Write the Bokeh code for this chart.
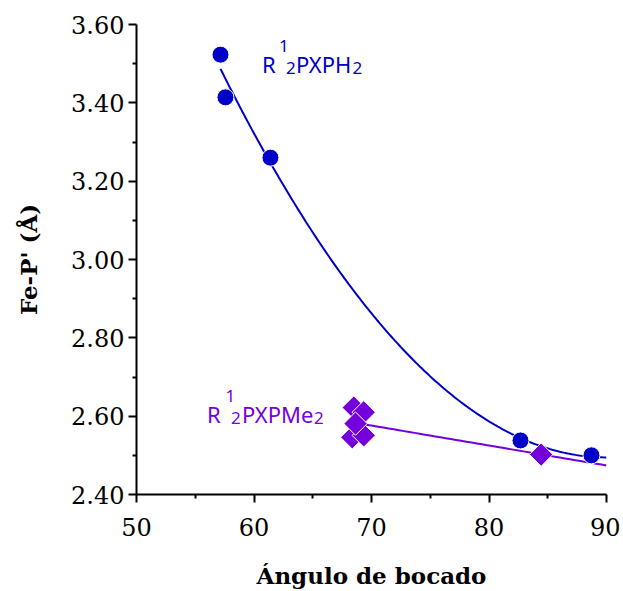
import numpy as np
from bokeh.plotting import figure
from bokeh.models import FixedTicker, PrintfTickFormatter, Range1d
from bokeh.core.properties import value
from bokeh.embed import file_html
from bokeh.resources import INLINE

# Data
ph2_x = [57.15, 57.57, 61.40, 82.68, 88.72]
ph2_y = [3.523, 3.414, 3.260, 2.538, 2.500]
pme2_x = [68.49, 69.34, 68.36, 69.34, 68.64, 84.44]
pme2_y = [2.622, 2.610, 2.546, 2.551, 2.581, 2.502]

x_ticks = [50, 60, 70, 80, 90]
x_minor = [55, 65, 75, 85]
y_ticks = [2.40, 2.60, 2.80, 3.00, 3.20, 3.40, 3.60]
y_minor = [2.50, 2.70, 2.90, 3.10, 3.30, 3.50]

BLUE = "#0000C8"
PURPLE = "#7400DC"

p = figure(width=620, height=593, output_backend="svg", toolbar_location=None,
           x_range=Range1d(50, 90), y_range=Range1d(2.40, 3.60),
           min_border_left=136, min_border_right=14, min_border_top=24,
           min_border_bottom=99)
p.outline_line_color = None
p.xgrid.visible = False
p.ygrid.visible = False
p.background_fill_color = "white"
p.border_fill_color = "white"

for ax, ticks, minor in ((p.xaxis[0], x_ticks, x_minor), (p.yaxis[0], y_ticks, y_minor)):
    ax.ticker = FixedTicker(ticks=ticks, minor_ticks=minor)
    ax.axis_line_width = 2
    ax.axis_line_color = "black"
    ax.major_tick_line_width = 2
    ax.minor_tick_line_width = 2
    ax.major_tick_out = 8
    ax.major_tick_in = 0
    ax.minor_tick_out = 4
    ax.minor_tick_in = 0
    ax.major_label_text_font = "DejaVu Serif"
    ax.major_label_text_font_size = "24px"
    ax.major_label_text_color = "black"
    ax.axis_label_text_font = "DejaVu Serif"
    ax.axis_label_text_font_style = "bold"
    ax.axis_label_text_font_size = "23px"
    ax.axis_label_text_color = "black"

p.yaxis[0].formatter = PrintfTickFormatter(format="%.2f")
p.xaxis[0].major_label_standoff = 15
p.yaxis[0].major_label_standoff = 4
p.xaxis[0].axis_label = "Ángulo de bocado"
p.yaxis[0].axis_label = "Fe-P' (Å)"
p.xaxis[0].axis_label_standoff = 23
p.yaxis[0].axis_label_standoff = 26

# trend lines
c2 = np.polyfit(ph2_x, ph2_y, 2)
xs = np.linspace(min(ph2_x), 90, 200)
p.line(xs, np.polyval(c2, xs), line_color=BLUE, line_width=2)

c1 = np.polyfit(pme2_x, pme2_y, 1)
xs2 = np.linspace(min(pme2_x), 90, 50)
p.line(xs2, np.polyval(c1, xs2), line_color=PURPLE, line_width=2)

# markers
p.scatter(pme2_x, pme2_y, marker="square", size=16.5, angle=np.pi / 4,
          fill_color=PURPLE, line_color="white", line_width=1)
p.scatter(ph2_x, ph2_y, marker="circle", size=17,
          fill_color=BLUE, line_color="white", line_width=1)

# labels built from pieces: (text, x offset px, y offset px, size)
def label(x, y, parts, color):
    for txt, dx, dy, fs in parts:
        p.text(x=[x], y=[y], text=[txt], x_offset=dx, y_offset=dy,
               text_font=value("Noto Sans"), text_font_size=fs,
               text_color=color, text_align="left", text_baseline="alphabetic")

label(60.68, 3.50, [("R", 0, 0, "22px"), ("1", 17, -18, "17px"), ("2", 24, 4, "17px"),
                    ("PXPH", 34, 0, "22px"), ("2", 90.5, 4, "17px")], BLUE)
label(56.0, 2.606, [("R", 0, 0, "22px"), ("1", 18.5, -18, "17px"), ("2", 24, 4, "17px"),
                    ("PXPMe", 35, 0, "22px"), ("2", 107, 4, "17px")], PURPLE)

open("out.html", "w").write(file_html(p, INLINE))
